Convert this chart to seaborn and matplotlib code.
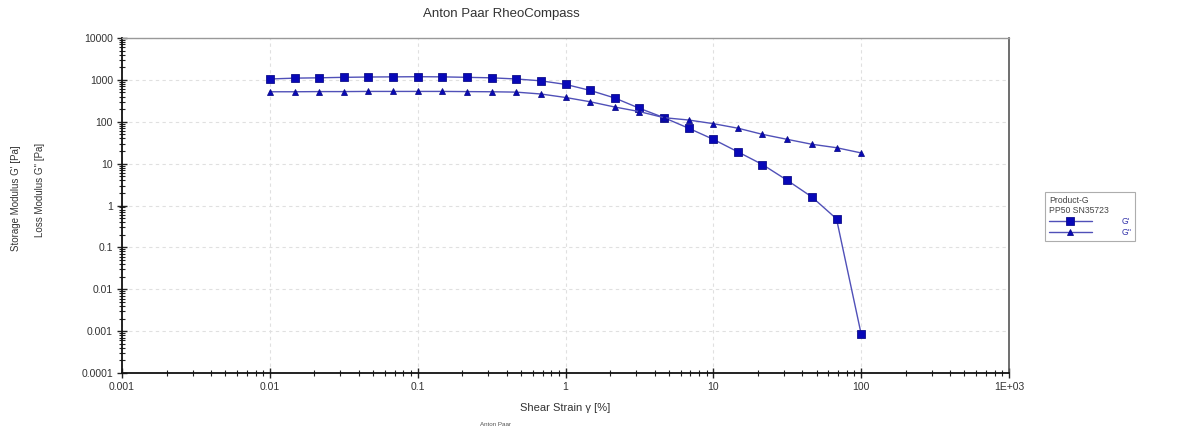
import matplotlib
matplotlib.use("Agg")
import matplotlib.pyplot as plt
import matplotlib.ticker as mticker
import seaborn as sns
import pandas as pd
import numpy as np

# Data
strain = [0.01, 0.0147, 0.0215, 0.0316, 0.0464, 0.0681, 0.1, 0.147, 0.215, 0.316,
          0.464, 0.681, 1.0, 1.47, 2.15, 3.16, 4.64, 6.81, 10.0, 14.7, 21.5, 31.6,
          46.4, 68.1, 100.0]
g_storage = [1050, 1100, 1120, 1150, 1170, 1180, 1190, 1180, 1150, 1120,
             1050, 950, 780, 560, 370, 210, 125, 70, 38, 19, 9.5, 4.0,
             1.6, 0.48, 0.00085]
g_loss = [520, 520, 525, 525, 530, 530, 530, 530, 525, 520,
          510, 460, 380, 300, 225, 175, 125, 110, 90, 70, 50, 38,
          29, 24, 18]
x_ticks = [0.001, 0.01, 0.1, 1, 10, 100, 1000]
x_ticklabels = ["0.001", "0.01", "0.1", "1", "10", "100", "1E+03"]
y_ticks = [0.0001, 0.001, 0.01, 0.1, 1, 10, 100, 1000, 10000]
y_ticklabels = ["0.0001", "0.001", "0.01", "0.1", "1", "10", "100", "1000", "10000"]

sns.set_theme(style="white")
plt.rcParams['font.family'] = ['Liberation Sans', 'DejaVu Sans']

fig = plt.figure(figsize=(11.85, 4.34), dpi=100)
ax = fig.add_axes([122/1185, 1 - 373/434, (1009-122)/1185, (373-38)/434])

line_col = "#5050b8"
mark_col = "#0808b8"
df1 = pd.DataFrame({"x": strain, "y": g_storage})
df2 = pd.DataFrame({"x": strain, "y": g_loss})
sns.lineplot(data=df1, x="x", y="y", ax=ax, color=line_col, lw=1.0, marker="s",
             markersize=6.2, markerfacecolor=mark_col, markeredgecolor="#10108a",
             markeredgewidth=0.6, label="G'")
sns.lineplot(data=df2, x="x", y="y", ax=ax, color=line_col, lw=1.0, marker="^",
             markersize=5.0, markerfacecolor=mark_col, markeredgecolor="#10108a",
             markeredgewidth=0.6, label="G''")

ax.set_xscale("log")
ax.set_yscale("log")
ax.set_xlim(0.001, 1000)
ax.set_ylim(0.0001, 10000)
ax.set_xticks(x_ticks)
ax.set_xticklabels(x_ticklabels)
ax.set_yticks(y_ticks)
ax.set_yticklabels(y_ticklabels)
ax.xaxis.set_minor_locator(mticker.LogLocator(base=10, subs=np.arange(2, 10)))
ax.yaxis.set_minor_locator(mticker.LogLocator(base=10, subs=np.arange(2, 10)))
ax.xaxis.set_minor_formatter(mticker.NullFormatter())
ax.yaxis.set_minor_formatter(mticker.NullFormatter())
ax.tick_params(axis="both", which="major", direction="inout", length=7, width=1,
               colors="#222222", labelsize=7.5, labelcolor="#333333", pad=3,
               bottom=True, left=True)
ax.tick_params(axis="both", which="minor", direction="inout", length=4, width=0.8,
               colors="#222222", bottom=True, left=True)
ax.grid(True, which="major", linestyle=(0, (3, 3)), color="#e0e0e0", lw=0.8)

for s in ["left", "bottom"]:
    ax.spines[s].set_color("#111111")
    ax.spines[s].set_linewidth(1.3)
ax.spines["top"].set_color("#999999")
ax.spines["top"].set_linewidth(1.0)
ax.spines["right"].set_color("#555555")
ax.spines["right"].set_linewidth(1.2)

ax.set_xlabel("Shear Strain \u03b3 [%]", fontsize=8, color="#333333", labelpad=8)
ax.set_ylabel("")

fig.text(16/1185, 1 - 198/434, "Storage Modulus G' [Pa]", rotation=90,
         ha="center", va="center", fontsize=7, color="#333333")
fig.text(40/1185, 1 - 190/434, "Loss Modulus G'' [Pa]", rotation=90,
         ha="center", va="center", fontsize=7, color="#333333")
fig.text(501/1185, 1 - 14/434, "Anton Paar RheoCompass", ha="center", va="center",
         fontsize=9.5, color="#333333")
fig.text(495/1185, 1 - 425/434, "Anton Paar", ha="center", va="center",
         fontsize=4.5, color="#555555")

leg = ax.legend(loc="upper left", bbox_to_anchor=(1045/1185, 1 - 192/434),
                bbox_transform=fig.transFigure, title="Product-G\nPP50 SN35723",
                fontsize=6.2, title_fontsize=6.2, frameon=True, fancybox=False,
                edgecolor="#999999", handlelength=5.0, handletextpad=3.4,
                borderpad=0.45, labelspacing=0.2, alignment="left",
                borderaxespad=0)
leg.get_frame().set_linewidth(0.8)
for t in leg.get_texts():
    t.set_color("#3333aa")
leg.get_title().set_color("#444444")

fig.savefig("out.png", dpi=100)
